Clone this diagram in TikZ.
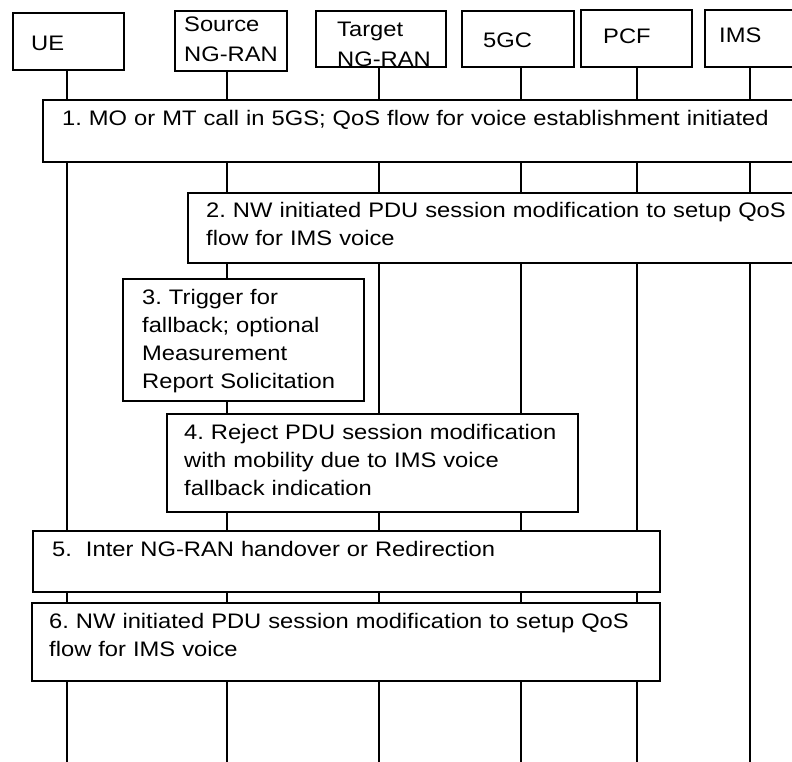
\documentclass[tikz,border=0pt]{standalone}
\usepackage{fontspec}
\setmainfont{Liberation Sans}[FakeStretch=1.13]
\begin{document}
\frenchspacing
\begin{tikzpicture}[x=1pt,y=-1pt,
  box/.style={draw, fill=white, line width=1.7pt, inner sep=0pt, outer sep=0pt, anchor=north west},
  life/.style={line width=1.6pt},
  txt/.style={anchor=base west, inner sep=0pt, text width=760pt, align=left,
              font=\fontsize{21}{28}\selectfont\frenchspacing}]
\useasboundingbox (0,0) rectangle (792,762);
% lifeline end points
\coordinate (ueE) at (67,762);
\coordinate (srcE) at (227,762);
\coordinate (tgtE) at (379,762);
\coordinate (cnE) at (521,762);
\coordinate (pcfE) at (637,762);
\coordinate (imsE) at (750,762);
% header boxes
\node[box, minimum width=111pt, minimum height=57pt] (ue) at (13,13) {};
\node[box, minimum width=112pt, minimum height=60pt] (src) at (175,11) {};
\node[box, minimum width=130pt, minimum height=56pt] (tgt) at (316,11) {};
\node[box, minimum width=112pt, minimum height=56pt] (cn) at (462,11) {};
\node[box, minimum width=111pt, minimum height=57pt] (pcf) at (581,10) {};
\node[box, minimum width=95pt, minimum height=57pt] (ims) at (705,10) {};
% lifelines
\draw[life] (ue.south -| ueE) -- (ueE);
\draw[life] (src.south -| srcE) -- (srcE);
\draw[life] (tgt.south -| tgtE) -- (tgtE);
\draw[life] (cn.south -| cnE) -- (cnE);
\draw[life] (pcf.south -| pcfE) -- (pcfE);
\draw[life] (ims.south -| imsE) -- (imsE);
% header texts
\node[txt] (ueT) at (31,51) {UE};
\node[txt] (srcT) at (184,32) {Source\\[2pt]NG-RAN};
\node[txt] (tgtT) at (337,37) {Target\\[2pt]NG-RAN};
\node[txt] (cnT) at (483,48) {5GC};
\node[txt] (pcfT) at (603,44) {PCF};
\node[txt] (imsT) at (719,43) {IMS};
% step boxes
\node[box, minimum width=755pt, minimum height=62pt] (s1) at (43,100) {};
\node[box, minimum width=610pt, minimum height=70pt] (s2) at (188,193) {};
\node[box, minimum width=241pt, minimum height=122pt] (s3) at (123,279) {};
\node[box, minimum width=411pt, minimum height=98pt] (s4) at (167,414) {};
\node[box, minimum width=627pt, minimum height=61pt] (s5) at (33,531) {};
\node[box, minimum width=628pt, minimum height=78pt] (s6) at (32,603) {};
% step texts
\node[txt] (s1T) at (62,126) {1. MO or MT call in 5GS; QoS flow for voice establishment initiated};
\node[txt] (s2T) at (206,218) {2. NW initiated PDU session modification to setup QoS\\flow for IMS voice};
\node[txt] (s3T) at (142,304) {3. Trigger for\\fallback; optional\\Measurement\\Report Solicitation};
\node[txt] (s4T) at (184,439) {4. Reject PDU session modification\\with mobility due to IMS voice\\fallback indication};
\node[txt] (s5T) at (52,556) {5.\ \ Inter NG-RAN handover or Redirection};
\node[txt] (s6T) at (49,628) {6. NW initiated PDU session modification to setup QoS\\flow for IMS voice};
\end{tikzpicture}
\end{document}
